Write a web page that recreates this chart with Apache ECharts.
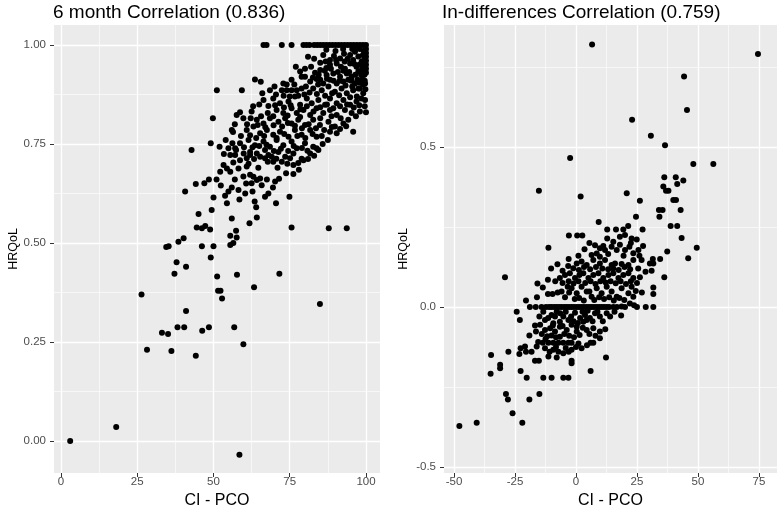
<!DOCTYPE html>
<html>
<head>
<meta charset="utf-8">
<script src="https://cdn.jsdelivr.net/npm/echarts@6/dist/echarts.min.js"></script>
<style>
html,body{margin:0;padding:0;background:#fff;}
#chart{width:777px;height:512px;}
</style>
</head>
<body>
<div id="chart"></div>
<script>
// ---- Data ----
const leftTitle = '6 month Correlation (0.836)';
const rightTitle = 'In-differences Correlation (0.759)';
const xAxisTitle = 'CI - PCO';
const yAxisTitle = 'HRQoL';

const leftXTicks = [0, 25, 50, 75, 100];
const leftXMinor = [12.5, 37.5, 62.5, 87.5];
const leftYTicks = [0, 0.25, 0.5, 0.75, 1.0];
const leftYMinor = [0.125, 0.375, 0.625, 0.875];
const rightXTicks = [-50, -25, 0, 25, 50, 75];
const rightXMinor = [-37.5, -12.5, 12.5, 37.5, 62.5];
const rightYTicks = [-0.5, 0, 0.5];
const rightYMinor = [-0.25, 0.25, 0.75];

// 6 month: [CI - PCO, HRQoL]
const sixMonthPoints = [
  [66.4,1],[67.4,1],[72.4,1],[75.6,1],[79.5,1],[80.5,1],[81.5,1],[83,1],[84,1],[85,1],[86,1],[87,1],[88,1],[89,1],[90,1],[91,1],[92,1],[93,1],[94,1],[95,1],[96,1],[97,1],[98,1],[99,1],[100,1],
  [86,0.975],[88.2,0.962],[91.5,0.966],[94.8,0.975],[96.4,0.983],[97.5,0.971],[98.6,0.958],[100,0.99],[100,0.98],[100,0.97],[100,0.96],[100,0.95],[100,0.94],[100,0.93],[99.5,0.925],[99.3,0.985],[99.5,0.965],
  [88.2,0.95],[90.4,0.953],[93.1,0.94],[94.8,0.953],[96.9,0.945],[98.6,0.937],
  [78.4,0.933],[83.3,0.93],[85,0.937],[87.1,0.924],[89.3,0.928],[91.5,0.92],[93.7,0.928],[95.3,0.92],[97.5,0.933],[99.1,0.924],
  [63.6,0.913],[65.5,0.907],[72.9,0.903],[75.6,0.912],[78.9,0.92],[81.7,0.908],[83.8,0.914],[86,0.903],[88.2,0.912],[90.4,0.903],[92.6,0.908],[94.2,0.912],[96.4,0.903],[98.6,0.912],[99.7,0.903],
  [51.1,0.886],[59.3,0.886],[68.5,0.886],[72.4,0.886],[74,0.886],[75.6,0.886],[77.3,0.886],[78.9,0.89],[82.7,0.89],[85.5,0.886],[87.7,0.895],[89.8,0.882],[92,0.89],[93.7,0.878],[95.8,0.886],[98,0.89],[99.1,0.878],
  [66.4,0.861],[69.6,0.865],[71.8,0.853],[74.6,0.857],[76.7,0.87],[78.4,0.849],[80.6,0.865],[82.2,0.853],[84.4,0.861],[86.6,0.849],[88.2,0.865],[90.4,0.853],[92.6,0.861],[94.8,0.849],[96.9,0.857],[99.7,0.861],
  [57.6,0.823],[62.5,0.832],[70.7,0.836],[72.9,0.828],[75.6,0.84],[77.3,0.828],[79.5,0.836],[81.7,0.823],[83.8,0.84],[86,0.828],[88.2,0.836],[90.4,0.823],[93.1,0.836],[95.3,0.828],[98,0.832],
  [59.8,0.815],[64.2,0.811],[66.4,0.802],[68.5,0.815],[71.3,0.806],[73.5,0.815],[75.6,0.802],[77.8,0.811],[80,0.798],[82.7,0.811],[84.9,0.798],[87.7,0.806],[89.8,0.794],[92.6,0.802],[94.2,0.811],[58.7,0.83],
  [56,0.785],[60.9,0.785],[63.1,0.794],[65.3,0.777],[67.5,0.785],[69.6,0.773],[71.8,0.781],[74.6,0.768],[76.7,0.785],[78.9,0.773],[81.7,0.785],[83.8,0.768],[88.2,0.781],[90.4,0.777],[95.8,0.781],
  [58.7,0.752],[61.5,0.76],[63.6,0.747],[66.4,0.756],[68.5,0.743],[70.7,0.76],[72.9,0.747],[75.6,0.756],[77.3,0.739],[80,0.752],[82.7,0.743],[84.4,0.735],
  [57.1,0.739],[62,0.73],[64.2,0.726],[66.9,0.735],[69.1,0.718],[71.3,0.73],[73.5,0.718],[76.2,0.726],[78.9,0.713],[81.7,0.726],[83.8,0.739],
  [49.8,0.815],[56.4,0.78],[49.1,0.752],[42.8,0.735],[52,0.743],[54.9,0.739],[55.5,0.722],[57.4,0.735],[57.1,0.722],[58.7,0.709],[60.9,0.714],[62,0.722],
  [53.3,0.697],[54.4,0.688],[52.2,0.68],[55.5,0.68],[58.2,0.688],[60.9,0.693],
  [65.3,0.718],[66.9,0.714],[68,0.722],[69.6,0.705],[72.4,0.705],[75.1,0.714],[76.2,0.697],[79.5,0.709],
  [73.8,0.676],[76.2,0.674],
  [62,0.672],[63.1,0.667],[64.2,0.659],[62.5,0.651],[65.3,0.663],[65.8,0.646],
  [56,0.64],[58.2,0.634],[60.4,0.625],[54.9,0.63],[53.8,0.619],
  [44.2,0.649],[47,0.651],[40.7,0.63],[70.2,0.655],[66.9,0.617],[68,0.625],[74.9,0.617],[64,0.59],[64.2,0.564],[61.8,0.55],[56,0.562],[49.4,0.583],[45.1,0.573],
  [44.5,0.539],[46.2,0.537],[47.3,0.543],[48.9,0.534],[57.4,0.531],[55.5,0.518],[57.6,0.514],[75.6,0.539],[87.8,0.537],[93.7,0.537],
  [35.3,0.492],[38.5,0.503],[40.2,0.512],[46.2,0.492],[50,0.492],[55.5,0.495],[56.5,0.5],[34.5,0.49],
  [49.1,0.463],[37.9,0.451],[41,0.44],[37.2,0.422],[51.2,0.415],[57.7,0.42],[71.6,0.422],[63.3,0.388],[51.5,0.379],[52.3,0.379],[52.8,0.36],[26.4,0.37],[84.9,0.346],[41,0.328],
  [38.2,0.287],[40.4,0.287],[48.5,0.287],[56.8,0.287],[46.3,0.278],[33.1,0.273],[35.1,0.27],[59.8,0.244],[28.2,0.23],[36.2,0.227],[44.2,0.215],
  [18.1,0.035],[3,0],[58.5,-0.035],
  // denser core
  [87,0.988],[90,0.985],[92.5,0.99],[95.5,0.99],[98,0.99],[89.5,0.972],[92.8,0.978],[99,0.975],[86.8,0.958],[90.2,0.962],[93,0.958],[95.8,0.962],[97.8,0.95],[99,0.945],[91.8,0.945],[87,0.942],[85,0.955],[83,0.965],[81,0.97],
  [77,0.945],[80,0.94],[82,0.945],[84.5,0.925],[86.5,0.935],[88.5,0.94],[90.8,0.932],[92.6,0.935],[94.5,0.932],[96.5,0.925],[98.4,0.925],[80,0.92],[82.6,0.918],[85,0.912],[87.2,0.915],[89.4,0.91],[91.4,0.91],[93.3,0.898],[95.2,0.91],[97.2,0.912],[99,0.9],[76.5,0.9],[80.3,0.895],[84.3,0.9],
  [66,0.878],[70.5,0.875],[73,0.872],[75,0.87],[79.8,0.875],[81.5,0.88],[83.9,0.876],[86.6,0.872],[88.9,0.878],[91.2,0.873],[94.8,0.868],[97,0.87],[98.5,0.865],[70,0.895],[74,0.9],[77.8,0.872],
  [63,0.845],[65,0.85],[68,0.846],[70.2,0.848],[73.1,0.842],[75.3,0.848],[78.5,0.838],[80.6,0.845],[82.8,0.832],[85,0.843],[87.2,0.85],[89.3,0.84],[91.5,0.845],[93.8,0.85],[96,0.842],[97.8,0.848],[99.6,0.845],[100,0.83],[67.8,0.828],[65.6,0.82],[69.6,0.82],[74.3,0.822],[78.4,0.818],[85,0.815],[88.7,0.82],[91.7,0.815],[96.7,0.82],
  [57,0.8],[61,0.8],[62.2,0.815],[64.5,0.798],[67,0.792],[69.7,0.797],[72.5,0.794],[74.4,0.803],[76.7,0.796],[79,0.79],[81.2,0.8],[83.6,0.79],[86.3,0.785],[88.8,0.793],[91.5,0.788],[93.5,0.795],[59,0.77],[62,0.772],[64,0.765],[66.6,0.77],[70.7,0.765],[73.2,0.775],[77.5,0.77],[80.1,0.765],[82.5,0.775],[85.5,0.77],[87.5,0.76],
  [54,0.76],[56.2,0.752],[60,0.742],[62.8,0.742],[65,0.745],[67.4,0.748],[69.8,0.732],[72.1,0.738],[74.5,0.732],[76.3,0.745],[79,0.74],[80.8,0.733],[85.8,0.75],[53.4,0.725],[59.9,0.726],[63.3,0.712],[67.8,0.705],[70.6,0.713],[74.2,0.7],[77.8,0.702],[81,0.712],[83,0.72],[56.5,0.703],[61.5,0.7],[64.7,0.69],[71,0.69],[78,0.685],
  [57,0.66],[59.8,0.668],[60.7,0.65],[67.5,0.66],[69.5,0.64],[71.5,0.662],[62.8,0.63],[58.5,0.61],[51,0.66],[52.4,0.645],[48.5,0.66],[63.5,0.605],[70.5,0.6],[54.4,0.6],[50,0.615],
  [97.2,0.992],[98.8,0.955],[96.2,0.952],[94,0.965],[99.6,0.91],[99.8,0.888],[97.5,0.89],[95.5,0.895],[97.8,0.905]
];

// In-differences: [CI - PCO, HRQoL]
const diffPoints = [
  [6.6,0.82],[74.6,0.79],[44.3,0.72],[45.5,0.615],[23,0.585],[30.7,0.535],[36.5,0.505],
  [-2.4,0.465],[48.1,0.447],[56.3,0.447],
  [-15.2,0.363],[1.9,0.345],[20.8,0.355],[26.2,0.332],
  [36.2,0.405],[40.9,0.405],[44,0.395],[41.5,0.384],[35.8,0.376],[36.9,0.363],[37.9,0.363],[39.9,0.334],[41,0.334],
  [34,0.303],[35.5,0.303],[34.2,0.282],[42.9,0.303],[24.6,0.282],[9.3,0.265],[38.8,0.253],[41.5,0.253],
  [43.3,0.215],[49.5,0.185],[46,0.152],[37.4,0.173],[36.2,0.093],
  [-2.9,0.223],[0.5,0.223],[2.6,0.223],[-11.3,0.185],[-29.1,0.093],
  [12.8,0.242],[16.4,0.242],[19.4,0.242],[21.4,0.253],[27.3,0.242],
  [26.2,0.093],[31.7,0.061],[31.7,0.04],[31.5,0.15],[34.5,0.15],[31.7,0.136],[31,0.113],
  [6.4,0.162],[9.8,0.157],[11.9,0.178],[14.6,0.188],[16.7,0.178],[18,0.194],[20.1,0.178],[21.9,0.188],[23.5,0.168],[25.6,0.178],[26.9,0.147],[30.3,0.136],
  [12.8,0.214],[15.3,0.204],[18,0.219],[20.1,0.225],[22.8,0.214],[24.9,0.211],[7.8,0.193],[9.8,0.183],[11.2,0.19],[8.5,0.167],
  [-7.6,0.133],[-5.5,0.113],[-1.1,0.121],[0.3,0.136],[2.3,0.142],[4.4,0.131],[7.1,0.147],[9.8,0.136],[11.9,0.147],[14.6,0.131],[16,0.136],[18.7,0.134],[21.5,0.131],[23.5,0.147],
  [-6.6,0.09],[-4.5,0.1],[-2.5,0.105],[-0.4,0.09],[1.4,0.1],[3,0.105],[5.1,0.09],[7.1,0.1],[9.2,0.105],[11.2,0.09],[13.3,0.1],[15.3,0.105],[17.4,0.09],[19.4,0.1],[21.5,0.105],[23.5,0.09],
  [-13.6,0.061],[-9.6,0.04],[-5.9,0.048],[-3.4,0.063],
  [-1.8,0.058],[0.3,0.043],[2.3,0.063],[4.4,0.048],[6.4,0.032],[8.5,0.058],[10.5,0.043],[12.6,0.063],[14.6,0.048],[16.7,0.032],[18.7,0.058],[21.5,0.043],[22.8,0.063],[23.5,0.032],
  [-14.1,0],[-12.3,0],[-10,0],[-7.9,0],[-5.9,0],[-3.8,0],[-1.8,0],[0.3,0],[2.3,0],[4.4,0],[6.4,0],[8.5,0],[10.5,0],[12.6,0],[15.3,0],[20.1,0],[18.7,0.001],[22.1,0.011],
  [-24.3,-0.015],[-23,-0.041],[-18.9,0],[31.7,0],[28.6,0],[18.5,-0.027],
  [-13.4,-0.015],[-10,-0.025],[-7.9,-0.015],[-5.2,-0.03],[-3.1,-0.041],[-0.4,-0.018],[1.7,-0.035],[3.7,-0.025],[5.7,-0.035],[7.8,-0.02],[9.8,-0.03],[12.6,-0.02],[-12.7,-0.041],[-9.3,-0.051],[-6.6,-0.046],[3,-0.046],[4.4,-0.041],
  [-12.7,-0.072],[-10.6,-0.067],[-8.6,-0.077],[-6.6,-0.062],[-3.8,-0.072],[-1.8,-0.056],[0.3,-0.077],[4.4,-0.072],[7.1,-0.067],[9.8,-0.077],[0.3,-0.062],[-6.6,-0.093],[-10,-0.089],
  [-19.1,-0.089],[-16.4,-0.077],[-16.8,-0.058],[-14.7,-0.056],
  [-13.6,-0.112],[-11.3,-0.112],[-9.3,-0.112],[-7.2,-0.112],[-5.2,-0.112],[-3.1,-0.112],[-1.8,-0.112],[1,-0.114],[6,-0.112],[7.1,-0.112],
  [-20.9,-0.124],[-16.1,-0.124],[-12.7,-0.129],[-9.3,-0.134],[-7.2,-0.14],[-1.8,-0.134],[2.3,-0.129],[9.8,-0.098],
  [-16.8,-0.168],[-11.3,-0.155],[-5.2,-0.145],
  [6,-0.2],[12.3,-0.158],
  [-13.4,-0.221],[-10,-0.221],[-5.2,-0.221],[-3.1,-0.221],
  [-15,-0.272],[-19.1,-0.289],[-28.7,-0.272],[-27.9,-0.289],[-26,-0.332],[-22,-0.362],
  [-34.8,-0.15],[-31.1,-0.181],[-31.1,-0.192],[-35,-0.209],[-27.7,-0.14],
  [-47.8,-0.372],[-40.7,-0.362],
  [-22.7,-0.2],[-20.2,-0.221],[-23.2,-0.147],[-20.5,-0.14],[-18.2,-0.14],[-22.7,-0.129],
  [-15.2,-0.168],[-7.9,-0.158],[-1.8,-0.176],[-1.8,-0.168],
  // denser core
  [3.5,0.18],[5.5,0.2],[13.2,0.165],[19.5,0.16],[22.5,0.2],[27.5,0.19],[1,0.16],[-3,0.15],[26,0.16],
  [-10.2,0.12],[-3.2,0.128],[1.2,0.115],[3.3,0.125],[5.8,0.118],[8.2,0.125],[10.8,0.12],[13.2,0.118],[15.3,0.12],[17.5,0.115],[19.9,0.125],[22.2,0.118],[25.5,0.12],[28.5,0.11],
  [-8.5,0.08],[-5.5,0.075],[-3,0.08],[-1,0.073],[1,0.08],[3.8,0.075],[6,0.08],[8,0.072],[10,0.08],[12.2,0.076],[14.2,0.08],[16.3,0.074],[18.3,0.08],[20.5,0.072],[22.5,0.08],[25,0.075],[-11.5,0.085],[-15.8,0.073],
  [-11.5,0.04],[-7.5,0.045],[-4.5,0.03],[-2.8,0.045],[-0.5,0.025],[1.3,0.028],[3.2,0.02],[5.5,0.048],[7.5,0.022],[9.5,0.03],[11.5,0.025],[13.6,0.03],[15.5,0.02],[17.8,0.028],[19.8,0.022],[24.5,0.05],[27,0.045],[-16,0.03],[-20.5,0.02],
  [-16.5,0],[-11,0],[-8.9,0],[-6.9,0],[-4.8,0],[-2.8,0],[-0.8,0],[1.3,0],[3.3,0],[5.4,0],[7.4,0],[9.5,0],[11.5,0],[13.6,0],[16.8,0],[25,0],[23.8,0.005],
  [-15,-0.03],[-11.4,-0.035],[-8.6,-0.03],[-6.5,-0.02],[-4.2,-0.015],[-2,-0.03],[0.8,-0.05],[2.7,-0.015],[4.8,-0.012],[6.8,-0.045],[8.8,-0.015],[11,-0.045],[14,-0.03],[15.8,-0.015],[-1,-0.045],
  [-14,-0.085],[-11.8,-0.092],[-8.2,-0.095],[-4.8,-0.085],[-2.8,-0.09],[-0.8,-0.095],[1.5,-0.088],[2.8,-0.065],[5.5,-0.085],[8,-0.09],[12,-0.07],[-5.5,-0.06],[-9.5,-0.058],
  [-15.5,-0.11],[-12.5,-0.1],[-8.2,-0.125],[-4.2,-0.128],[-3,-0.14],[0,-0.125],[-10.8,-0.14],[4.5,-0.12]
];

// ---- Chart ----
const FONT = 'Liberation Sans, Arial, Helvetica, sans-serif';
const chart = echarts.init(document.getElementById('chart'), null, {renderer: 'canvas'});

function majorAxis(kind, grid, min, max, ticks, fmt, name, nameGap, nameSize, labelMargin) {
  const a = {
    type: 'value', gridIndex: grid, min: min, max: max,
    axisLine: {show: false, onZero: false},
    axisTick: {show: true, customValues: ticks, length: 4, lineStyle: {color: '#333333', width: 1}},
    axisLabel: {customValues: ticks, color: '#4D4D4D', fontSize: 11.5, fontFamily: FONT, margin: labelMargin, formatter: fmt},
    splitLine: {show: true, lineStyle: {color: '#FFFFFF', width: 1.3}},
    name: name, nameLocation: 'middle', nameGap: nameGap,
    nameTextStyle: {color: '#000000', fontSize: nameSize, fontFamily: FONT}
  };
  if (kind === 'y') a.nameRotate = 90;
  return a;
}
function minorAxis(grid, min, max, ticks) {
  return {
    type: 'value', gridIndex: grid, min: min, max: max,
    axisLine: {show: false, onZero: false},
    axisTick: {show: false, customValues: ticks},
    axisLabel: {show: false, customValues: ticks},
    splitLine: {show: true, lineStyle: {color: '#FFFFFF', width: 0.6}}
  };
}

const L = {xmin: -2.3, xmax: 104.6, ymin: -0.081, ymax: 1.0505};
const R = {xmin: -54.1, xmax: 82.4, ymin: -0.519, ymax: 0.881};

chart.setOption({
  backgroundColor: '#FFFFFF',
  animation: false,
  title: [
    {text: leftTitle, left: 53, top: 3, padding: 0, textStyle: {fontSize: 19, fontWeight: 'normal', color: '#000', fontFamily: FONT}},
    {text: rightTitle, left: 442, top: 3, padding: 0, textStyle: {fontSize: 19, fontWeight: 'normal', color: '#000', fontFamily: FONT}}
  ],
  grid: [
    {left: 54, top: 25, width: 326, height: 448, show: true, backgroundColor: '#EBEBEB', borderWidth: 0, containLabel: false, outerBoundsMode: 'none'},
    {left: 444, top: 25, width: 333, height: 448, show: true, backgroundColor: '#EBEBEB', borderWidth: 0, containLabel: false, outerBoundsMode: 'none'}
  ],
  xAxis: [
    majorAxis('x', 0, L.xmin, L.xmax, leftXTicks, v => String(v), xAxisTitle, 17, 16, 3),
    majorAxis('x', 1, R.xmin, R.xmax, rightXTicks, v => String(v), xAxisTitle, 17, 16, 3),
    minorAxis(0, L.xmin, L.xmax, leftXMinor),
    minorAxis(1, R.xmin, R.xmax, rightXMinor)
  ],
  yAxis: [
    majorAxis('y', 0, L.ymin, L.ymax, leftYTicks, v => v.toFixed(2), yAxisTitle, 34, 12.5, 8),
    majorAxis('y', 1, R.ymin, R.ymax, rightYTicks, v => v.toFixed(1), yAxisTitle, 34, 12.5, 8),
    minorAxis(0, L.ymin, L.ymax, leftYMinor),
    minorAxis(1, R.ymin, R.ymax, rightYMinor)
  ],
  series: [
    {type: 'scatter', xAxisIndex: 0, yAxisIndex: 0, data: sixMonthPoints, symbolSize: 6,
     itemStyle: {color: '#000000', opacity: 1}, silent: true},
    {type: 'scatter', xAxisIndex: 1, yAxisIndex: 1, data: diffPoints, symbolSize: 6,
     itemStyle: {color: '#000000', opacity: 1}, silent: true}
  ]
});
</script>
</body>
</html>
